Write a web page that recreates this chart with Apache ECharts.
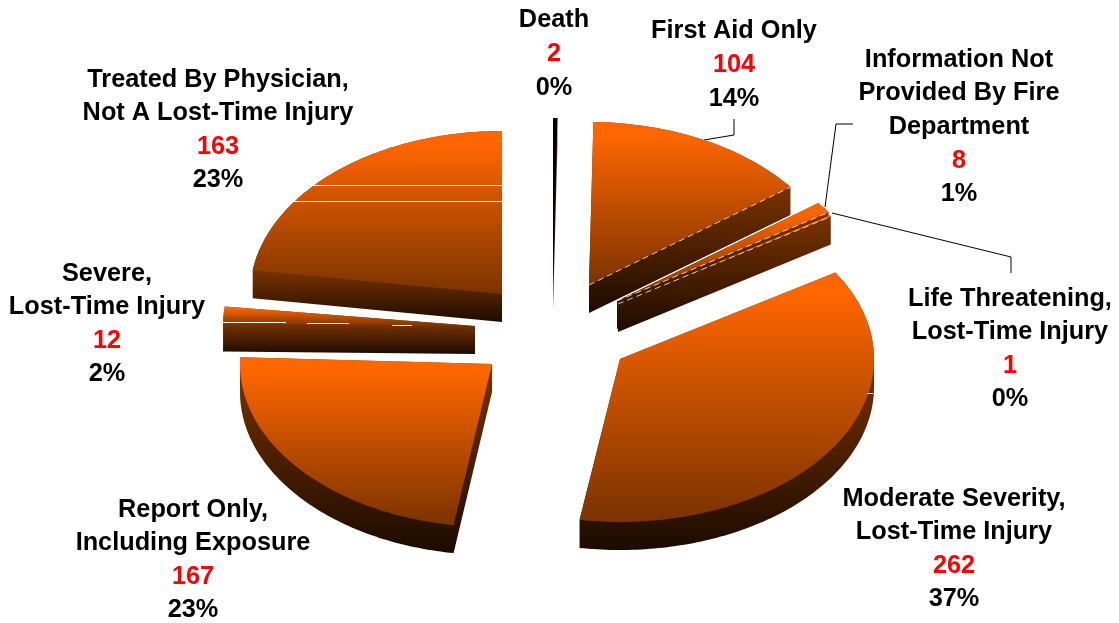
<!DOCTYPE html>
<html>
<head>
<meta charset="utf-8">
<title>Injury severity</title>
<style>
  html, body { margin: 0; padding: 0; background: #fff; }
  #main { width: 1119px; height: 623px; }
</style>
<script src="https://cdn.jsdelivr.net/npm/echarts@6/dist/echarts.min.js"></script>
</head>
<body>
<div id="main"></div>
<script>
// data, clockwise from the top
var categories = [
    ['Death'],
    ['First Aid Only'],
    ['Information Not', 'Provided By Fire', 'Department'],
    ['Life Threatening,', 'Lost-Time Injury'],
    ['Moderate Severity,', 'Lost-Time Injury'],
    ['Report Only,', 'Including Exposure'],
    ['Severe,', 'Lost-Time Injury'],
    ['Treated By Physician,', 'Not A Lost-Time Injury']
];
var values = [2, 104, 8, 1, 262, 167, 12, 163];
var percents = ['0%', '14%', '1%', '0%', '37%', '23%', '2%', '23%'];

// layout of the exploded pie (not data)
var ry = 163, depth = 28;
var radiiX = [252, 252, 252, 252, 254, 252, 252, 252];
var tips = [[553, 281], [589, 285], [617, 301], [618, 304], [620, 359], [492, 364], [475, 326], [502, 294]];
var spin = [0, 0, 0, 0, 0.4, 0, -1.5, 0];   // the original's perspective skews a few slices
var labelPos = [[554, 54], [734, 65], [959, 127], [1010, 349], [954, 549], [193, 560], [107, 324], [218, 130]];
var total = values.reduce(function (a, b) { return a + b; }, 0);

function pointAt(tip, rx, deg) {
    var r = deg * Math.PI / 180;
    return [tip[0] + rx * Math.sin(r), tip[1] - ry * Math.cos(r)];
}

function hull(pts) {
    var p = pts.slice().sort(function (a, b) { return a[0] - b[0] || a[1] - b[1]; });
    function cross(o, a, b) { return (a[0] - o[0]) * (b[1] - o[1]) - (a[1] - o[1]) * (b[0] - o[0]); }
    var lower = [], upper = [];
    p.forEach(function (q) {
        while (lower.length > 1 && cross(lower[lower.length - 2], lower[lower.length - 1], q) <= 0) lower.pop();
        lower.push(q);
    });
    p.reverse().forEach(function (q) {
        while (upper.length > 1 && cross(upper[upper.length - 2], upper[upper.length - 1], q) <= 0) upper.pop();
        upper.push(q);
    });
    return lower.slice(0, -1).concat(upper.slice(0, -1));
}

function vGradient(y0, y1, stops) {
    return { type: 'linear', x: 0, y: y0, x2: 0, y2: y1, global: true,
        colorStops: stops.map(function (s) { return { offset: s[0], color: s[1] }; }) };
}

function renderSlice(params, api) {
    var i = params.dataIndex;
    var tip = tips[i], rx = radiiX[i];
    var before = 0;
    for (var k = 0; k < i; k++) before += values[k];
    var a0 = before / total * 360 + spin[i], a1 = (before + api.value(0)) / total * 360 + spin[i];

    var face = [tip];
    var steps = Math.max(2, Math.ceil(a1 - a0));
    for (var s = 0; s <= steps; s++) face.push(pointAt(tip, rx, a0 + (a1 - a0) * s / steps));

    var below = face.map(function (p) { return [p[0], p[1] + depth, 1]; });
    var outline = hull(face.concat(below));
    var ys = face.map(function (p) { return p[1]; });
    var sideTop = Math.min.apply(null, outline.filter(function (p) { return p[2]; }).map(function (p) { return p[1] - depth; }));
    var sideBottom = Math.max.apply(null, ys) + depth;

    var children = [{
        type: 'polygon',
        shape: { points: outline },
        style: { fill: vGradient(sideTop, sideBottom, [[0, '#7a3300'], [1, '#1c0b00']]) }
    }, {
        type: 'polygon',
        shape: { points: face },
        style: i === 0
            ? { fill: '#000' }
            : { fill: vGradient(Math.min.apply(null, ys), Math.max.apply(null, ys), [[0, '#ff6600'], [0.08, '#ff6600'], [1, '#7a3300']]) }
    }];

    // white dashed highlight along the lower cut of the thin upper-right slices
    if (i >= 1 && i <= 3) {
        var end = pointAt(tip, rx, a1);
        children.push({
            type: 'line',
            shape: { x1: tip[0], y1: tip[1], x2: end[0], y2: end[1] },
            style: { stroke: '#fff', lineWidth: 1, lineDash: [6, 4], opacity: 0.75 }
        });
    }
    return { type: 'group', children: children };
}

function labelText(i) {
    var lines = categories[i].map(function (t) { return '{n|' + t + '}'; });
    lines.push('{r|' + values[i] + '}');
    lines.push('{n|' + percents[i] + '}');
    return lines.join('\n');
}

var labelFont = { fontFamily: 'Liberation Sans', fontWeight: 'bold', fontSize: 25.3, lineHeight: 33.6 };
var labels = categories.map(function (c, i) {
    return {
        type: 'text', x: labelPos[i][0], y: labelPos[i][1],
        style: {
            text: labelText(i), align: 'center', verticalAlign: 'middle',
            rich: {
                n: Object.assign({ fill: '#000' }, labelFont),
                r: Object.assign({ fill: '#ff0000' }, labelFont)
            }
        }
    };
});

var leaders = [
    [[704, 140], [734, 135], [734, 119]],
    [[825, 207], [836, 124], [853, 124]],
    [[832, 213], [1011, 257], [1011, 273]]
].map(function (pts) {
    return { type: 'polyline', shape: { points: pts }, style: { stroke: '#000', lineWidth: 1, fill: null } };
});

// white banding seams left in the original raster
var seams = [
    [[313, 185.5], [502, 185.5]],
    [[294, 201.5], [502, 201.5]],
    [[222, 322.5], [286, 322.5]],
    [[307, 323.5], [349, 323.5]],
    [[392, 325.5], [412, 325.5]],
    [[867, 393.5], [873, 393.5]]
].map(function (pts) {
    return { type: 'polyline', z: 5, shape: { points: pts }, style: { stroke: '#fff', lineWidth: 1, fill: null } };
});

var myChart = echarts.init(document.getElementById('main'));
myChart.setOption({
    backgroundColor: '#fff',
    animation: false,
    graphic: { elements: leaders.concat(seams, labels) },
    series: [{
        type: 'custom',
        coordinateSystem: 'none',
        renderItem: renderSlice,
        data: values
    }]
});
</script>
</body>
</html>
